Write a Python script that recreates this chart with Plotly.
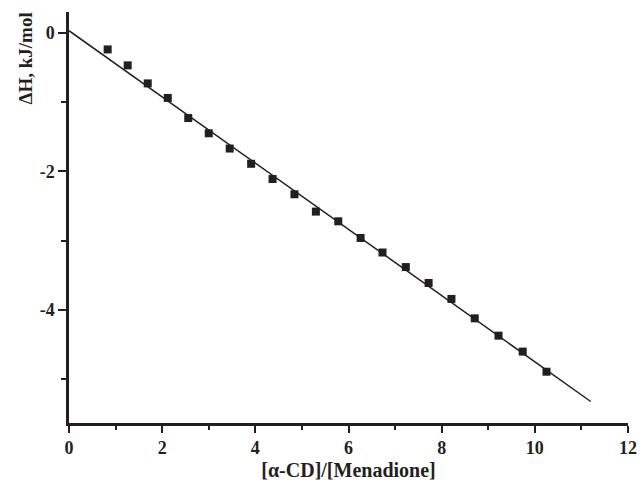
import plotly.graph_objects as go

# Data
ratio = [0.83, 1.26, 1.69, 2.12, 2.56, 3.00, 3.45, 3.91, 4.37, 4.84, 5.30,
         5.78, 6.26, 6.73, 7.23, 7.72, 8.21, 8.71, 9.22, 9.74, 10.25]
dH = [-0.24, -0.47, -0.73, -0.94, -1.23, -1.45, -1.67, -1.89, -2.11, -2.33, -2.58,
      -2.72, -2.96, -3.17, -3.38, -3.61, -3.84, -4.12, -4.37, -4.60, -4.89]
fit_x = [0.0, 11.2]
fit_y = [0.03, -5.32]

x_ticks = [0, 2, 4, 6, 8, 10, 12]
x_ticktext = ["0", "2", "4", "6", "8", "10", "12"]
y_ticks = [0, -2, -4]
y_ticktext = ["0", "-2", "-4"]

ink = "#231f20"
font = "Liberation Serif"

W, H = 639, 488
L, R, T, B = 68.5, 11.3, 12, 64.7
plot_w = W - L - R
plot_h = H - T - B

fig = go.Figure()
fig.add_trace(go.Scatter(x=fit_x, y=fit_y, mode="lines",
                         line=dict(color=ink, width=1.5), showlegend=False))
fig.add_trace(go.Scatter(x=ratio, y=dH, mode="markers",
                         marker=dict(symbol="square", size=8, color=ink),
                         showlegend=False))

tickfont = dict(family=font, size=18, color=ink, weight="bold")

fig.update_layout(
    width=W, height=H,
    margin=dict(l=L, r=R, t=T, b=B),
    paper_bgcolor="white", plot_bgcolor="white",
    font=dict(family=font, color=ink),
    xaxis=dict(
        range=[0, 12], tickvals=x_ticks, ticktext=["<b>%s</b>" % t for t in x_ticktext],
        automargin=False, ticklabeloverflow="allow",
        showgrid=False, zeroline=False, showline=True, linecolor=ink, linewidth=2.5,
        ticks="outside", ticklen=7, tickwidth=2, tickcolor=ink,
        minor=dict(dtick=1, tick0=0, ticks="outside", ticklen=4, tickwidth=2, tickcolor=ink),
        tickfont=tickfont,
        title=dict(text="<b>[α-CD]/[Menadione]</b>", font=dict(family=font, size=20, color=ink),
                   standoff=6),
    ),
    yaxis=dict(
        range=[-5.63, 0.3], tickvals=y_ticks, ticktext=["<b>%s</b>" % t for t in y_ticktext],
        automargin=False,
        showgrid=False, zeroline=False, showline=True, linecolor=ink, linewidth=2.5,
        ticks="outside", ticklen=8, tickwidth=2, tickcolor=ink,
        minor=dict(dtick=1, tick0=0, ticks="outside", ticklen=5, tickwidth=2, tickcolor=ink),
        tickfont=tickfont,
    ),
    annotations=[dict(
        text="<b>ΔH, kJ/mol</b>", textangle=-90, showarrow=False,
        xref="paper", yref="paper", x=(25 - L) / plot_w, y=(plot_h - 47) / plot_h,
        xanchor="center", yanchor="middle",
        font=dict(family=font, size=19, color=ink),
    )],
)

fig.write_html("out.html", config={"displayModeBar": False},
               post_script="document.body.style.margin='0';document.body.style.overflow='hidden';")
